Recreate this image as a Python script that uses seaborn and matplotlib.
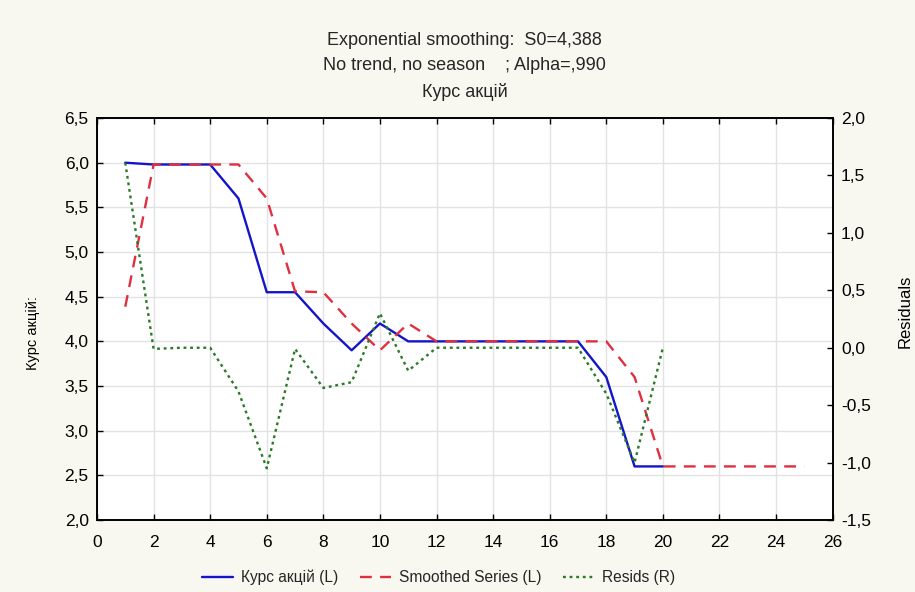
import matplotlib
matplotlib.use("Agg")
import matplotlib.pyplot as plt
import matplotlib.ticker as mticker
import seaborn as sns
import pandas as pd

# ---- data ----
x_actual = list(range(1, 21))
kurs = [6.0, 5.98, 5.98, 5.98, 5.6, 4.55, 4.55, 4.2, 3.9, 4.2,
        4.0, 4.0, 4.0, 4.0, 4.0, 4.0, 4.0, 3.6, 2.6, 2.6]
x_smooth = list(range(1, 26))
smoothed = [4.388, 5.98, 5.98, 5.98, 5.98, 5.6, 4.56, 4.55, 4.2, 3.9,
            4.2, 4.0, 4.0, 4.0, 4.0, 4.0, 4.0, 4.0, 3.6, 2.6,
            2.6, 2.6, 2.6, 2.6, 2.6]
resids = [1.61, -0.01, 0.0, 0.0, -0.38, -1.05, -0.01, -0.35, -0.3, 0.3,
          -0.2, 0.0, 0.0, 0.0, 0.0, 0.0, 0.0, -0.4, -1.0, 0.0]
x_ticks = list(range(0, 27, 2))
left_ticks = [2.0, 2.5, 3.0, 3.5, 4.0, 4.5, 5.0, 5.5, 6.0, 6.5]
right_ticks = [-1.5, -1.0, -0.5, 0.0, 0.5, 1.0, 1.5, 2.0]
title_lines = ["Exponential smoothing:  S0=4,388",
               "No trend, no season    ; Alpha=,990",
               "Курс акцій"]
labels = ["Курс акцій (L)", "Smoothed Series (L)", "Resids (R)"]

sns.set_theme(style="white")
plt.rcParams['font.family'] = ['Liberation Sans', 'DejaVu Sans']

bg = "#f8f8f0"
fig = plt.figure(figsize=(9.15, 5.92), dpi=100, facecolor=bg)
ax = fig.add_axes([0.106, 0.1216, 0.804, 0.679])
ax.set_facecolor("white")
ax2 = ax.twinx()

df_a = pd.DataFrame({"x": x_actual, "y": kurs})
df_s = pd.DataFrame({"x": x_smooth, "y": smoothed})
df_r = pd.DataFrame({"x": x_actual, "y": resids})

blue = "#1414c8"
red = "#e03040"
green = "#2a7a2a"

sns.lineplot(data=df_a, x="x", y="y", ax=ax, color=blue, lw=1.7, label=labels[0], legend=False)
sns.lineplot(data=df_s, x="x", y="y", ax=ax, color=red, lw=1.7, label=labels[1], legend=False)
ax.lines[1].set_linestyle((0, (5, 3.5)))
sns.lineplot(data=df_r, x="x", y="y", ax=ax2, color=green, lw=1.7, label=labels[2], legend=False)
ax2.lines[0].set_linestyle((0, (1.2, 1.6)))

ax.set_xlim(0, 26)
ax.set_ylim(2.0, 6.5)
ax2.set_ylim(-1.5, 2.0)
ax.set_xticks(x_ticks)
ax.set_yticks(left_ticks)
ax2.set_yticks(right_ticks)

fmt = mticker.FuncFormatter(lambda v, p: f"{v:.1f}".replace(".", ","))
ax.yaxis.set_major_formatter(fmt)
ax2.yaxis.set_major_formatter(fmt)
ax.xaxis.set_major_formatter(mticker.FuncFormatter(lambda v, p: f"{int(v)}"))

ax.grid(True, color="#e2e2e2", lw=1.0)
ax.set_axisbelow(True)
for a in (ax, ax2):
    for s in a.spines.values():
        s.set_color("black")
        s.set_linewidth(1.2)

ax.tick_params(axis="x", direction="in", top=True, bottom=True, length=4, width=1,
               labelsize=12.5, colors="black", pad=11)
ax.tick_params(axis="y", direction="in", left=True, length=4, width=1,
               labelsize=12.5, colors="black", pad=6)
ax2.tick_params(axis="y", direction="in", right=True, length=4, width=1,
                labelsize=12.5, colors="black", pad=6)

ax.set_xlabel("")
ax.set_ylabel("Курс акцій:", fontsize=10.5, color="black")
ax.yaxis.set_label_coords(-0.077, 0.465)
ax2.set_ylabel("Residuals", fontsize=12, color="black")
ax2.yaxis.set_label_coords(1.089, 0.52)

fig.text(0.508, 0.932, title_lines[0], ha="center", va="center", fontsize=13)
fig.text(0.508, 0.890, title_lines[1], ha="center", va="center", fontsize=13)
fig.text(0.508, 0.845, title_lines[2], ha="center", va="center", fontsize=13)

handles = ax.lines[:2] + ax2.lines[:1]
fig.legend(handles, labels, loc="center", bbox_to_anchor=(0.479, 0.025), ncol=3,
           frameon=False, fontsize=11.2, handlelength=2.0, handletextpad=0.5,
           columnspacing=1.4)

fig.savefig("out.png", dpi=100, facecolor=bg)
